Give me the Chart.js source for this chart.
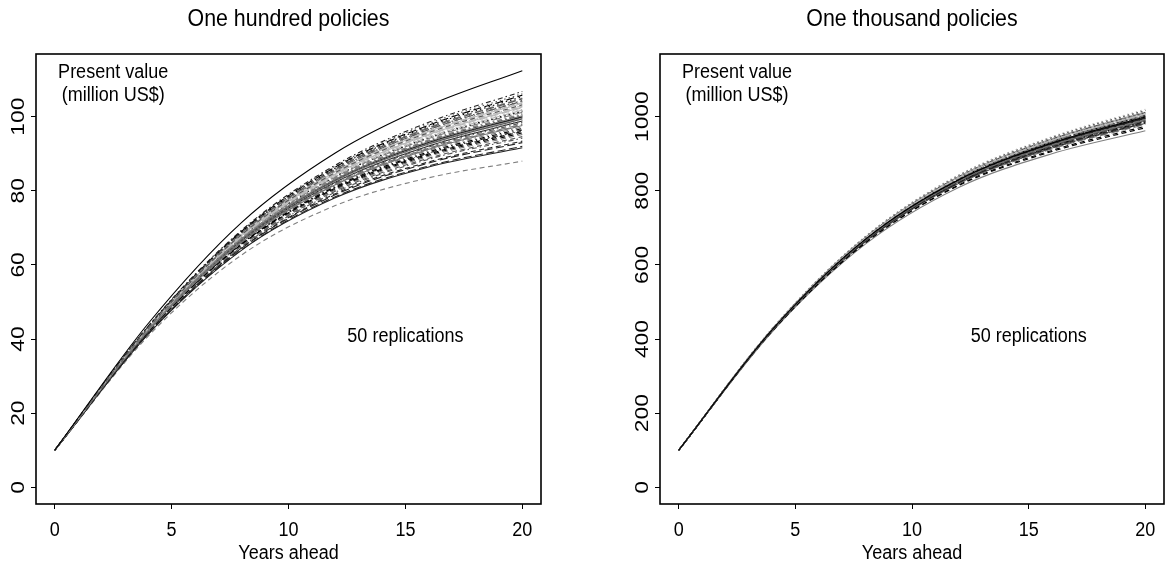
<!DOCTYPE html>
<html>
<head>
<meta charset="utf-8">
<script src="https://cdn.jsdelivr.net/npm/chart.js@4.4.1/dist/chart.umd.min.js"></script>
<style>
  html, body { margin: 0; padding: 0; background: #fff; }
  body { width: 1165px; height: 567px; position: relative; overflow: hidden; }
  .panel { position: absolute; top: 0; height: 567px; }
  #leftWrap { left: 0; width: 582px; }
  #rightWrap { left: 580px; width: 585px; }
</style>
</head>
<body>
<div class="panel" id="leftWrap"><canvas id="hundredChart" width="582" height="567"></canvas></div>
<div class="panel" id="rightWrap"><canvas id="thousandChart" width="585" height="567"></canvas></div>
<script>
const years = [0, 4, 8, 12, 16, 20];
const xTicks = [0, 5, 10, 15, 20];
const yTicksHundred = [0, 20, 40, 60, 80, 100];
const yTicksThousand = [0, 200, 400, 600, 800, 1000];

// present value (million US$) of each replication, at years 0, 4, 8, 12, 16, 20
const hundredRuns = [
    [10, 44.2, 71.5, 90.2, 103.0, 112.4],
    [10, 42.9, 68.2, 84.9, 95.7, 103.2],
    [10, 42.4, 66.6, 82.4, 92.3, 99.0],
    [10, 43.5, 69.4, 86.9, 98.5, 106.8],
    [10, 42.8, 67.6, 84.0, 94.5, 101.8],
    [10, 42.2, 66.1, 81.6, 91.2, 97.6],
    [10, 41.9, 65.6, 80.7, 89.9, 96.0],
    [10, 43.1, 68.6, 85.6, 96.6, 104.4],
    [10, 42.6, 67.2, 83.3, 93.6, 100.6],
    [10, 41.4, 64.1, 78.4, 86.7, 92.0],
    [10, 42.9, 67.9, 84.5, 95.2, 102.6],
    [10, 41.8, 65.3, 80.2, 89.3, 95.2],
    [10, 43.3, 68.9, 86.1, 97.4, 105.4],
    [10, 42.3, 66.4, 82.1, 91.8, 98.4],
    [10, 42.7, 67.4, 83.7, 94.1, 101.2],
    [10, 41.3, 64.0, 78.1, 86.4, 91.6],
    [10, 43.0, 68.4, 85.2, 96.1, 103.8],
    [10, 42.4, 66.9, 82.8, 92.8, 99.6],
    [10, 42.1, 65.8, 81.1, 90.5, 96.8],
    [10, 43.2, 68.7, 85.8, 96.9, 104.8],
    [10, 42.5, 67.1, 83.1, 93.3, 100.2],
    [10, 41.6, 64.6, 79.2, 87.8, 93.4],
    [10, 42.8, 67.7, 84.2, 94.7, 102.0],
    [10, 42.1, 66.0, 81.4, 90.9, 97.2],
    [10, 43.3, 69.1, 86.4, 97.7, 105.8],
    [10, 42.4, 66.8, 82.7, 92.6, 99.4],
    [10, 40.8, 62.7, 76.0, 83.5, 88.0],
    [10, 42.7, 67.5, 83.8, 94.2, 101.4],
    [10, 42.9, 68.1, 84.7, 95.5, 103.0],
    [10, 42.2, 66.3, 81.8, 91.5, 98.0],
    [10, 42.5, 67.0, 83.0, 93.1, 100.0],
    [10, 41.7, 65.1, 79.9, 88.8, 94.6],
    [10, 43.1, 68.4, 85.3, 96.3, 104.0],
    [10, 42.0, 65.7, 80.9, 90.2, 96.4],
    [10, 42.8, 67.9, 84.4, 95.0, 102.4],
    [10, 42.5, 66.9, 82.9, 92.9, 99.8],
    [10, 41.9, 65.4, 80.4, 89.6, 95.6],
    [10, 43.4, 69.2, 86.6, 98.1, 106.2],
    [10, 42.6, 67.3, 83.5, 93.7, 100.8],
    [10, 41.5, 64.5, 78.9, 87.5, 93.0],
    [10, 43.0, 68.3, 85.1, 96.0, 103.6],
    [10, 42.2, 66.2, 81.7, 91.3, 97.8],
    [10, 42.7, 67.6, 83.9, 94.4, 101.6],
    [10, 41.7, 64.9, 79.6, 88.5, 94.2],
    [10, 43.2, 68.8, 85.9, 97.1, 105.0],
    [10, 42.3, 66.6, 82.3, 92.1, 98.8],
    [10, 42.9, 68.0, 84.6, 95.3, 102.8],
    [10, 42.0, 65.6, 80.8, 90.1, 96.2],
    [10, 42.6, 67.1, 83.2, 93.4, 100.4],
    [10, 43.1, 68.5, 85.4, 96.5, 104.2]
];

const thousandRuns = [
    [100, 425, 669, 830, 929, 999],
    [100, 423, 666, 825, 921, 989],
    [100, 427, 676, 840, 943, 1016],
    [100, 424, 669, 829, 928, 997],
    [100, 426, 672, 835, 936, 1007],
    [100, 423, 667, 826, 923, 991],
    [100, 420, 659, 814, 906, 970],
    [100, 426, 674, 837, 939, 1011],
    [100, 425, 670, 831, 931, 1001],
    [100, 423, 664, 822, 918, 985],
    [100, 426, 673, 836, 937, 1009],
    [100, 424, 667, 827, 924, 993],
    [100, 425, 671, 833, 932, 1003],
    [100, 422, 663, 820, 915, 981],
    [100, 425, 672, 834, 934, 1005],
    [100, 424, 668, 828, 926, 995],
    [100, 427, 674, 838, 940, 1013],
    [100, 426, 673, 836, 936, 1008],
    [100, 423, 665, 823, 920, 987],
    [100, 425, 670, 831, 930, 1000],
    [100, 419, 656, 809, 900, 962],
    [100, 422, 664, 821, 916, 983],
    [100, 428, 677, 843, 946, 1020],
    [100, 424, 669, 830, 928, 998],
    [100, 426, 673, 837, 938, 1010],
    [100, 423, 666, 825, 922, 990],
    [100, 425, 671, 833, 933, 1004],
    [100, 424, 668, 827, 925, 994],
    [100, 426, 672, 834, 935, 1006],
    [100, 422, 662, 819, 913, 979],
    [100, 424, 668, 829, 927, 996],
    [100, 423, 665, 824, 920, 988],
    [100, 427, 675, 839, 941, 1014],
    [100, 425, 671, 832, 932, 1002],
    [100, 424, 667, 826, 924, 992],
    [100, 426, 674, 838, 940, 1012],
    [100, 421, 660, 816, 909, 974],
    [100, 426, 673, 836, 936, 1008],
    [100, 423, 665, 823, 919, 986],
    [100, 425, 670, 831, 931, 1001],
    [100, 422, 664, 822, 917, 984],
    [100, 425, 669, 830, 929, 999],
    [100, 427, 676, 841, 944, 1017],
    [100, 424, 667, 827, 924, 993],
    [100, 425, 671, 833, 932, 1003],
    [100, 422, 663, 820, 916, 982],
    [100, 425, 672, 834, 934, 1005],
    [100, 426, 673, 836, 937, 1009],
    [100, 423, 667, 826, 923, 991],
    [100, 424, 669, 829, 928, 997]
];

// line colours and dash types cycle like matplot (printed in grey)
const greys = ['#000000', '#555555', '#808080', '#222222', '#b8b8b8', '#747474'];
const dashes = [[], [5, 3.5], [1.5, 3], [1.5, 3, 5, 3], [8, 3.5]];

const sansFont = '"Liberation Sans", Arial, Helvetica, sans-serif';

// the original figure is a little squeezed sideways, so text is drawn narrowed
function squeezedText(ctx, text, x, y, size, sx) {
    ctx.save();
    ctx.font = size + 'px ' + sansFont;
    ctx.translate(x, y);
    ctx.scale(sx, 1);
    ctx.fillText(text, 0, 0);
    ctx.restore();
}

const decor = {
    id: 'decor',
    afterDraw(chart, args, opts) {
        const { ctx, chartArea: a, scales: { x, y } } = chart;
        ctx.save();
        ctx.strokeStyle = '#000';
        ctx.lineWidth = 1.6;
        ctx.strokeRect(a.left, a.top, a.right - a.left, a.bottom - a.top);

        ctx.fillStyle = '#000';
        ctx.textAlign = 'center';
        ctx.textBaseline = 'alphabetic';

        // y labels run up the axis, R style
        ctx.font = '19px ' + sansFont;
        opts.yTicks.forEach(v => {
            ctx.save();
            ctx.translate(a.left - 12, y.getPixelForValue(v));
            ctx.rotate(-Math.PI / 2);
            ctx.scale(1.2, 1);
            ctx.fillText(String(v), 0, 0);
            ctx.restore();
        });

        xTicks.forEach(v => {
            squeezedText(ctx, String(v), x.getPixelForValue(v), 536, 20, 0.9);
        });
        const mid = (a.left + a.right) / 2;
        squeezedText(ctx, 'Years ahead', mid, 559, 20, 0.9);

        const nx = x.getPixelForValue(2.5);
        squeezedText(ctx, 'Present value', nx, y.getPixelForValue(opts.noteY[0]), 20, 0.9);
        squeezedText(ctx, '(million US$)', nx, y.getPixelForValue(opts.noteY[1]), 20, 0.9);
        squeezedText(ctx, '50 replications', x.getPixelForValue(15), y.getPixelForValue(opts.repY) + 3, 20, 0.9);

        squeezedText(ctx, opts.title, mid, 26, 24, 0.89);
        ctx.restore();
    }
};

function makePanel(canvasId, runs, yTicks, yMin, yMax, yWidth, padRight, extra) {
    const datasets = runs.map((run, i) => ({
        data: run.map((v, j) => ({ x: years[j], y: v })),
        borderColor: greys[i % greys.length],
        borderDash: dashes[i % dashes.length],
        borderWidth: 1.1,
        pointRadius: 0,
        cubicInterpolationMode: 'monotone',
        fill: false
    }));

    return new Chart(document.getElementById(canvasId), {
        type: 'line',
        data: { datasets },
        plugins: [decor],
        options: {
            responsive: false,
            animation: false,
            events: [],
            layout: { padding: { top: 54, right: padRight, left: 0, bottom: 0 } },
            plugins: {
                legend: { display: false },
                tooltip: { enabled: false },
                decor: Object.assign({ yTicks }, extra)
            },
            scales: {
                x: {
                    type: 'linear',
                    min: -0.8,
                    max: 20.8,
                    afterBuildTicks: s => { s.ticks = xTicks.map(v => ({ value: v })); },
                    afterFit: s => { s.height = 63; },
                    ticks: { display: false },
                    border: { display: false },
                    grid: { drawOnChartArea: false, drawTicks: true, tickLength: 5, color: '#000', lineWidth: 1 }
                },
                y: {
                    type: 'linear',
                    min: yMin,
                    max: yMax,
                    afterBuildTicks: s => { s.ticks = yTicks.map(v => ({ value: v })); },
                    afterFit: s => { s.width = yWidth; },
                    ticks: { display: false },
                    border: { display: false },
                    grid: { drawOnChartArea: false, drawTicks: true, tickLength: 5, color: '#000', lineWidth: 1 }
                }
            }
        }
    });
}

makePanel('hundredChart', hundredRuns, yTicksHundred, -4.5, 116.9, 36, 41,
    { title: 'One hundred policies', noteY: [110.4, 104.3], repY: 40 });
makePanel('thousandChart', thousandRuns, yTicksThousand, -45, 1169, 80, 1,
    { title: 'One thousand policies', noteY: [1104, 1043], repY: 400 });
</script>
</body>
</html>
